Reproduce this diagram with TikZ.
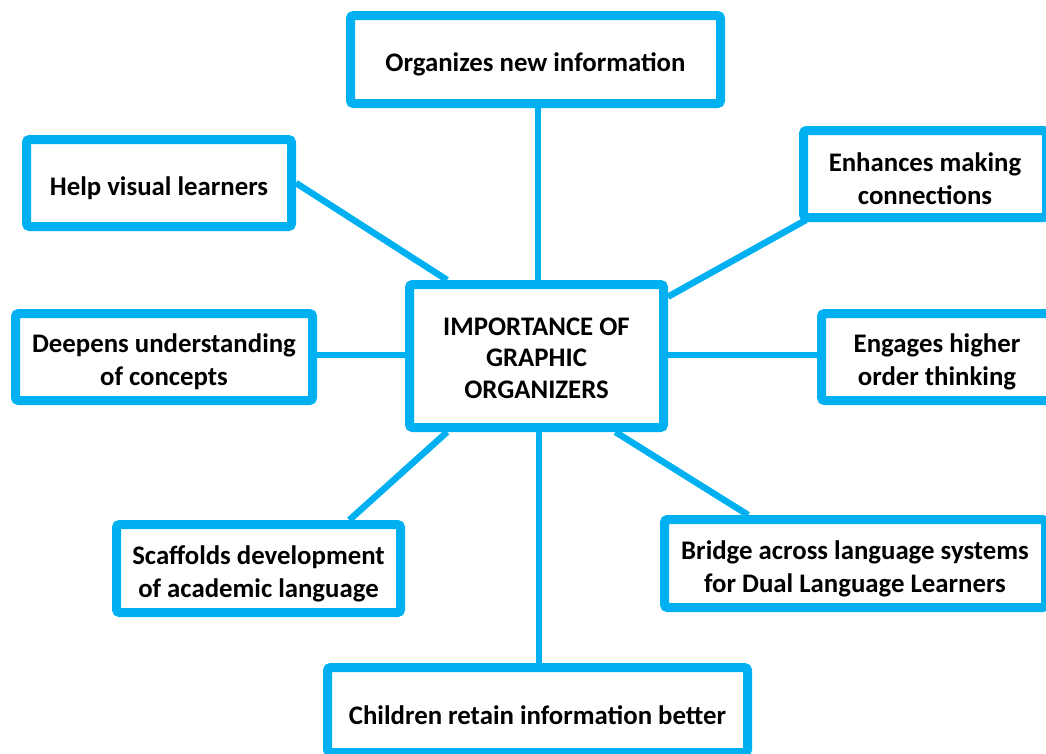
\documentclass[tikz,border=0pt]{standalone}
\usepackage{fontspec}
\setmainfont{Carlito}
\usetikzlibrary{calc,shadows,backgrounds}
\definecolor{skyline}{RGB}{0,176,240}
% taller first line, so the text sits a little low in its box
\newcommand\lift{\rule{0pt}{29pt}}
\newcommand\liftcaps{\rule{0pt}{22pt}}
\tikzset{
  idea/.style={draw=skyline, line width=9pt, fill=white, rounded corners=3pt,
    align=center, font=\bfseries\fontsize{26.8}{33}\selectfont, inner sep=0pt,
    drop shadow={opacity=0.22, shadow xshift=0.8pt, shadow yshift=-2.2pt}},
  link/.style={draw=skyline, line width=6.5pt}
}
\begin{document}
\begin{tikzpicture}[x=1pt, y=-1pt]
  \useasboundingbox (0,0) rectangle (1046,753);
  \clip (0,0) rectangle (1046,753);

  % central topic
  \node[idea, font=\bfseries\fontsize{26.8}{31.5}\selectfont,
        minimum width=254pt, minimum height=143pt] (imp) at (536.5,356)
    {\liftcaps IMPORTANCE OF\\GRAPHIC\\ORGANIZERS};

  % surrounding ideas
  \node[idea, minimum width=370pt, minimum height=88pt] (org) at (535.5,59.5)
    {\lift Organizes new information};
  \node[idea, minimum width=265pt, minimum height=87pt] (help) at (159,183)
    {\lift Help visual learners};
  \node[idea, minimum width=243pt, minimum height=87pt] (enh) at (925,174)
    {\lift Enhances making\\connections};
  \node[idea, minimum width=297pt, minimum height=87pt] (deep) at (164,357)
    {\lift Deepens understanding\\of concepts};
  \node[idea, minimum width=231pt, minimum height=87pt] (eng) at (937,357)
    {\lift Engages higher\\order thinking};
  \node[idea, minimum width=284pt, minimum height=88pt] (scaf) at (258.5,568.5)
    {\lift Scaffolds development\\of academic language};
  \node[idea, minimum width=381pt, minimum height=88pt] (bridge) at (855,563.5)
    {\lift Bridge across language systems\\for Dual Language Learners};
  \node[idea, minimum width=420pt, minimum height=85pt] (child) at (537.5,710)
    {\lift Children retain information better};

  % connector end points
  \coordinate (orgfoot) at ($(org.south)+(2.5,0)$);
  \coordinate (impfoot) at ($(imp.south)+(2.5,0)$);
  \coordinate (deepside) at ($(deep.east)+(0,-2)$);
  \coordinate (engside) at ($(eng.west)+(0,-2)$);

  % connectors, kept behind the boxes
  \begin{scope}[on background layer]
    \draw[link] (orgfoot) -- (orgfoot |- imp.north);
    \draw[link] (help.east) -- ($(imp.north west)!0.16!(imp.north east)$);
    \draw[link] ($(enh.south west)+(7,-2)$) -- ($(imp.north east)!0.11!(imp.south east)$);
    \draw[link] (deepside) -- (deepside -| imp.west);
    \draw[link] (engside -| imp.east) -- (engside);
    \draw[link] ($(imp.south west)!0.16!(imp.south east)$) -- ($(scaf.north west)!0.81!(scaf.north east)$);
    \draw[link] (impfoot) -- (impfoot |- child.north);
    \draw[link] ($(imp.south west)!0.8!(imp.south east)$) -- ($(bridge.north west)!0.226!(bridge.north east)$);
  \end{scope}
\end{tikzpicture}
\end{document}
